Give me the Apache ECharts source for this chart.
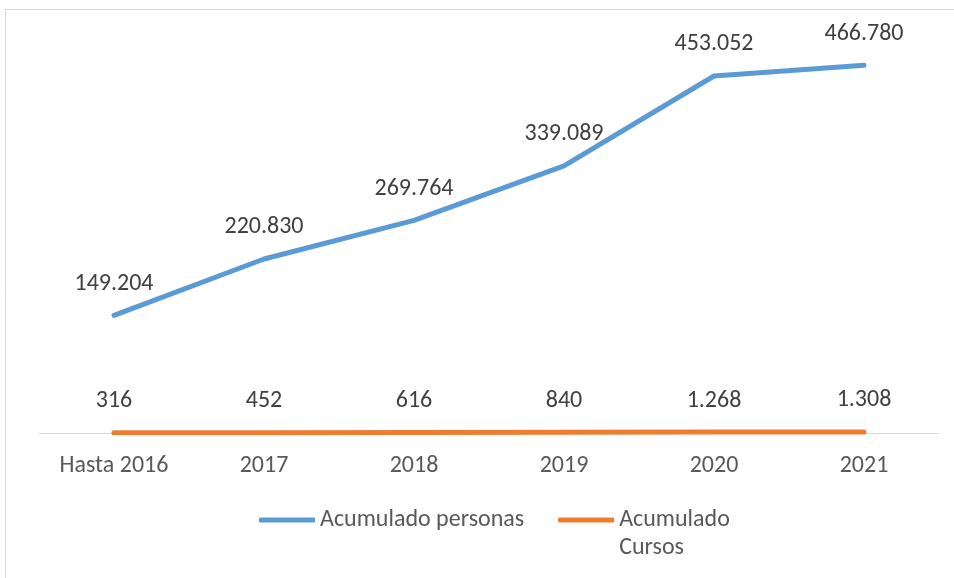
<!DOCTYPE html>
<html>
<head>
<meta charset="utf-8">
<script src="https://cdn.jsdelivr.net/npm/echarts@6/dist/echarts.min.js"></script>
<style>
  html, body { margin: 0; padding: 0; background: #fff; }
  #chart { width: 954px; height: 578px; }
</style>
</head>
<body>
<div id="chart"></div>
<script>
const categories = ['Hasta 2016', '2017', '2018', '2019', '2020', '2021'];
const personas = [149204, 220830, 269764, 339089, 453052, 466780];
const cursos = [316, 452, 616, 840, 1268, 1308];

const FONT = 'Carlito, Lato, sans-serif';

// separador de miles con punto
const fmt = (v) => String(v).replace(/\B(?=(\d{3})+(?!\d))/g, '.');

const labelStyle = {
  show: true,
  position: 'top',
  distance: 19,
  color: '#404040',
  fontSize: 24,
  fontFamily: FONT,
  formatter: (p) => fmt(p.value)
};

const getOption = () => {
  return {
    animation: false,
    graphic: [
      {
        type: 'rect',
        shape: { x: 5.5, y: 9.5, width: 980, height: 600 },
        style: { fill: 'none', stroke: '#D9D9D9', lineWidth: 1 },
        silent: true
      }
    ],
    grid: { left: 39, right: 15, top: 39, bottom: 145 },
    xAxis: {
      type: 'category',
      data: categories,
      boundaryGap: true,
      axisLine: { lineStyle: { color: '#D9D9D9', width: 1 } },
      axisTick: { show: false },
      axisLabel: { color: '#595959', fontSize: 24, fontFamily: FONT, margin: 21 }
    },
    yAxis: {
      type: 'value',
      min: 0,
      max: 500000,
      show: false,
      splitLine: { show: false }
    },
    legend: {
      left: 259,
      top: 478,
      padding: 0,
      itemWidth: 56,
      itemHeight: 5,
      itemGap: 34,
      icon: 'roundRect',
      textStyle: { color: '#595959', fontSize: 24, fontFamily: FONT, lineHeight: 28 },
      data: ['Acumulado personas', 'Acumulado Cursos'],
      // linea vacia arriba para que "Acumulado" quede alineado con el icono
      formatter: (name) => name === 'Acumulado Cursos' ? '\nAcumulado\nCursos' : name
    },
    series: [
      {
        name: 'Acumulado personas',
        type: 'line',
        data: personas,
        symbol: 'circle',
        symbolSize: 1,
        lineStyle: { color: '#5B9BD5', width: 5, cap: 'round', join: 'round' },
        itemStyle: { color: '#5B9BD5' },
        label: labelStyle
      },
      {
        name: 'Acumulado Cursos',
        type: 'line',
        data: cursos,
        symbol: 'circle',
        symbolSize: 1,
        lineStyle: { color: '#ED7D31', width: 5, cap: 'round', join: 'round' },
        itemStyle: { color: '#ED7D31' },
        label: labelStyle
      }
    ]
  };
};

const initChart = () => {
  const chart = echarts.init(document.getElementById('chart'), null, { renderer: 'canvas' });
  chart.setOption(getOption());
};

window.addEventListener('load', () => {
  initChart();
});
</script>
</body>
</html>
